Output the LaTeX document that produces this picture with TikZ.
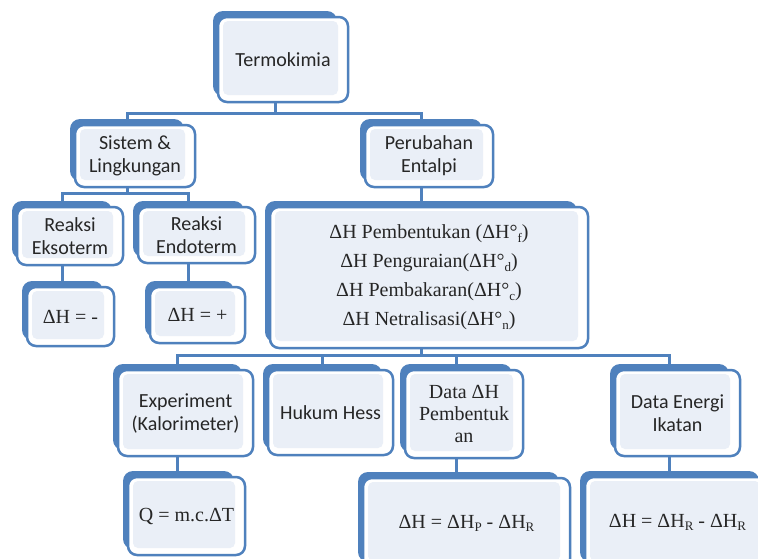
\documentclass[tikz,border=0pt]{standalone}
\usepackage{fontspec}
\setmainfont{Liberation Serif}
\newfontfamily\calfont{Carlito}
\usetikzlibrary{calc}
\pgfdeclarelayer{background}
\pgfsetlayers{background,main}
\definecolor{boxblue}{HTML}{4F81BD}
\definecolor{innerfill}{HTML}{EAEFF7}
\definecolor{txt}{HTML}{262626}
\newcommand{\mysub}[1]{\raisebox{-0.35ex}{\fontsize{13}{13}\selectfont #1}}
\newcommand{\tkbox}[7]{%
  \node[backshape, minimum width={(#4-#2-6)*1pt}, minimum height={(#5-#3)*1pt}] (#1) at ({(#2+#4)/2-8},{(#3+#5)/2-6}) {};
  \draw[frontshape] (#2,#3) rectangle (#4,#5);
  \fill[innerfill, rounded corners=5pt] ({#2+5},{#3+4}) rectangle ({#4-10},{#5-7});
  \node[labeltext, #6] (#1-t) at ({(#2+#4)/2},{(#3+#5)/2}) {#7};
}
\tikzset{
  backshape/.style={fill=boxblue, rounded corners=10pt, inner sep=0pt, draw=none, rectangle},
  frontshape/.style={draw=boxblue, line width=2.5pt, fill=white, rounded corners=9pt},
  labeltext/.style={align=center, text=txt, inner sep=0pt},
  sans/.style={font=\calfont\fontsize{20}{23}\selectfont},
  serif/.style={font=\fontsize{20}{22}\selectfont},
  bigserif/.style={font=\fontsize{20}{29}\selectfont},
  conn/.style={draw=boxblue, line width=3pt}
}
\begin{document}
\begin{tikzpicture}[x=1pt,y=-1pt]
\useasboundingbox (0,0) rectangle (758,558);
\begin{pgfonlayer}{background}
\fill[white] (0,0) rectangle (758,558);
\end{pgfonlayer}
\clip (0,0) rectangle (758,558);

\tkbox{termo}{218}{17}{348}{102}{sans}{Termokimia}
\tkbox{sistem}{75}{125}{195}{187}{sans}{Sistem \&\\Lingkungan}
\tkbox{perub}{365}{125}{493}{187}{sans}{Perubahan\\Entalpi}
\tkbox{eks}{17}{207}{123}{265}{sans}{Reaksi\\Eksoterm}
\tkbox{endo}{138}{207}{255}{263}{sans}{Reaksi\\Endoterm}
\tkbox{dmin}{27}{287}{114}{346}{serif}{ΔH = -}
\tkbox{dplus}{150}{287}{245}{343}{serif}{ΔH = +}
\tkbox{big}{270}{207}{588}{348}{bigserif}{ΔH Pembentukan (ΔH°\mysub{f})\\ΔH Penguraian(ΔH°\mysub{d})\\ΔH Pembakaran(ΔH°\mysub{c})\\ΔH Netralisasi(ΔH°\mysub{n})}
\tkbox{exp}{118}{370}{253}{456}{sans}{Experiment\\(Kalorimeter)}
\tkbox{hess}{268}{370}{393}{455}{sans}{Hukum Hess}
\tkbox{dataH}{405}{370}{523}{458}{serif}{Data ΔH\\Pembentuk\\an}
\tkbox{energi}{615}{370}{740}{456}{sans}{Data Energi\\Ikatan}
\tkbox{q}{128}{477}{245}{555}{serif}{Q = m.c.ΔT}
\tkbox{dhp}{363}{478}{570}{568}{serif}{ΔH = ΔH\mysub{P} - ΔH\mysub{R}}
\tkbox{last}{585}{477}{770}{568}{serif}{ΔH = ΔH\mysub{R} - ΔH\mysub{R}}

\coordinate (r1) at (0,113);
\coordinate (r2) at (0,193);
\coordinate (r3) at (0,355);
\begin{pgfonlayer}{background}
\draw[conn] (termo.south) -- (termo.south |- r1);
\draw[conn] (sistem.north) |- (perub.north |- r1) -- (perub.north);
\draw[conn] (sistem.south) -- (sistem.south |- r2);
\draw[conn] (eks.north) |- (endo.north |- r2) -- (endo.north);
\draw[conn] (eks.south) -- (eks.south |- dmin.north);
\draw[conn] (endo.south) -- (endo.south |- dplus.north);
\draw[conn] (perub.south) -- (perub.south |- big.north);
\draw[conn] (big.south) -- (big.south |- r3);
\draw[conn] (exp.north) |- (energi.north |- r3) -- (energi.north);
\draw[conn] (hess.north) -- (hess.north |- r3);
\draw[conn] (dataH.north) -- (dataH.north |- r3);
\draw[conn] (exp.south) -- (exp.south |- q.north);
\draw[conn] (dataH.south) -- (dataH.south |- dhp.north);
\draw[conn] (energi.south) -- (energi.south |- last.north);
\end{pgfonlayer}
\end{tikzpicture}
\end{document}
